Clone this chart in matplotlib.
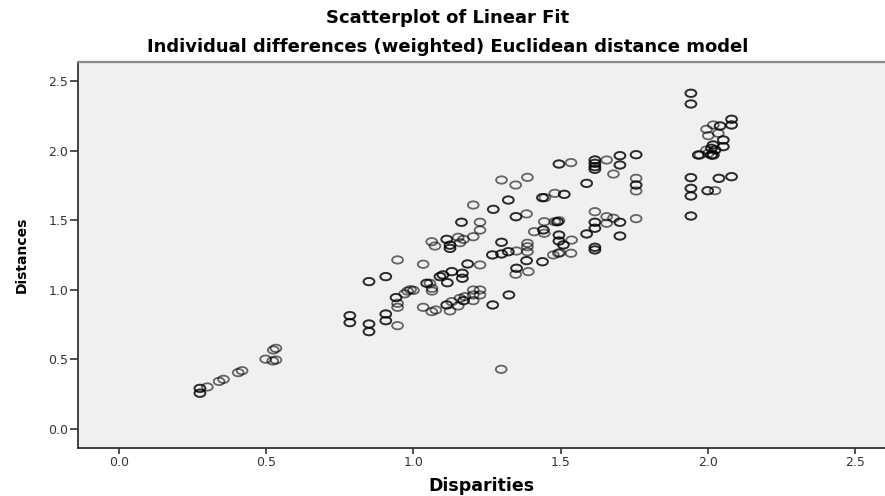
import numpy as np
import matplotlib
matplotlib.use("Agg")
import matplotlib.pyplot as plt
from matplotlib.path import Path

# Disparities (x) and fitted distances (y); repeated pairs are coincident observations
disparities = [
    0.275, 0.275, 0.275, 0.275, 0.300, 0.340, 0.355, 0.405, 0.418, 0.498,
    0.524, 0.533, 0.522, 0.533,
    0.784, 0.784, 0.784, 0.784,
    0.849, 0.849, 0.849, 0.849, 0.849, 0.849,
    0.906, 0.906, 0.906, 0.906, 0.906, 0.906,
    0.946, 0.946, 0.941, 0.941, 0.946, 0.946,
    0.970, 0.980, 0.990, 1.000,
    1.033, 1.033, 1.045, 1.045, 1.056, 1.063, 1.063, 1.062, 1.076,
    1.090, 1.090, 1.100, 1.100, 1.130, 1.130, 1.115, 1.115,
    1.166, 1.166, 1.166, 1.166, 1.184, 1.184, 1.226,
    1.113, 1.113, 1.130, 1.124, 1.152, 1.170, 1.170, 1.158, 1.175,
    1.203, 1.226, 1.203, 1.226, 1.203,
    1.269, 1.269, 1.324, 1.324, 1.298,
    1.268, 1.268, 1.299, 1.299, 1.322, 1.322, 1.350,
    1.350, 1.350, 1.347, 1.390, 1.384, 1.384, 1.438, 1.438,
    1.062, 1.073, 1.113, 1.113, 1.124, 1.124, 1.124, 1.124,
    1.152, 1.158, 1.170, 1.203, 1.203, 1.163, 1.163, 1.226, 1.226,
    1.271, 1.271, 1.322, 1.322, 1.299, 1.347, 1.387,
    1.348, 1.348, 1.384, 1.299, 1.299, 1.387, 1.387, 1.387,
    1.410, 1.441, 1.441, 1.444, 1.444, 1.480, 1.489, 1.489, 1.494,
    1.475, 1.492, 1.497,
    1.494, 1.494, 1.494, 1.494, 1.509, 1.509, 1.537, 1.535,
    1.438, 1.438, 1.446, 1.480, 1.512, 1.512,
    1.494, 1.494, 1.535, 1.588, 1.588,
    1.616, 1.616, 1.616, 1.616, 1.616, 1.616, 1.616, 1.616,
    1.656, 1.679, 1.701, 1.701, 1.701, 1.701, 1.756, 1.756,
    1.756, 1.756, 1.756, 1.756,
    1.616, 1.656, 1.679, 1.656, 1.616, 1.616, 1.616, 1.616,
    1.588, 1.588, 1.701, 1.701, 1.756, 1.701, 1.701,
    1.616, 1.616, 1.616, 1.616,
    1.942, 1.942, 1.942, 1.942, 1.942, 1.942, 1.942, 1.942,
    1.942, 1.942, 1.942, 1.942,
    1.999, 1.999, 2.024, 2.037, 2.037, 2.080, 2.080,
    2.080, 2.080, 2.080, 2.080,
    1.995, 2.018, 2.041, 2.041, 2.001, 2.035,
    2.052, 2.052, 2.052, 2.052,
    2.017, 2.017, 2.012, 2.012, 2.024, 2.024, 1.995,
    1.967, 1.967, 1.973, 2.012, 2.012, 2.018, 2.018, 2.001,
]
distances = [
    0.290, 0.290, 0.255, 0.255, 0.300, 0.340, 0.355, 0.403, 0.417, 0.500,
    0.566, 0.578, 0.487, 0.494,
    0.813, 0.813, 0.763, 0.763,
    0.753, 0.753, 0.698, 0.698, 1.058, 1.058,
    1.094, 1.094, 0.825, 0.825, 0.777, 0.777,
    1.214, 0.741, 0.943, 0.943, 0.902, 0.873,
    0.970, 0.990, 1.000, 0.995,
    1.183, 0.873, 1.046, 1.046, 1.046, 1.010, 0.990, 0.842, 0.854,
    1.094, 1.094, 1.106, 1.106, 1.130, 1.130, 1.050, 1.050,
    1.118, 1.118, 1.082, 1.082, 1.185, 1.185, 1.178,
    0.890, 0.890, 0.914, 0.847, 0.883, 0.921, 0.921, 0.938, 0.950,
    0.998, 0.998, 0.962, 0.962, 0.921,
    0.890, 0.890, 0.962, 0.962, 0.427,
    1.250, 1.250, 1.257, 1.257, 1.273, 1.273, 1.278,
    1.154, 1.154, 1.111, 1.130, 1.209, 1.209, 1.201, 1.201,
    1.345, 1.314, 1.362, 1.362, 1.320, 1.320, 1.297, 1.297,
    1.377, 1.338, 1.362, 1.381, 1.609, 1.485, 1.485, 1.485, 1.429,
    1.578, 1.578, 1.645, 1.645, 1.789, 1.753, 1.808,
    1.525, 1.525, 1.545, 1.341, 1.341, 1.334, 1.309, 1.273,
    1.417, 1.430, 1.430, 1.406, 1.489, 1.489, 1.489, 1.489, 1.496,
    1.250, 1.262, 1.266,
    1.393, 1.393, 1.350, 1.350, 1.322, 1.322, 1.357, 1.262,
    1.662, 1.662, 1.662, 1.693, 1.686, 1.686,
    1.904, 1.904, 1.914, 1.765, 1.765,
    1.933, 1.933, 1.909, 1.909, 1.885, 1.885, 1.866, 1.866,
    1.933, 1.832, 1.964, 1.964, 1.897, 1.897, 1.971, 1.971,
    1.801, 1.753, 1.753, 1.710, 1.561, 1.525,
    1.514, 1.478, 1.485, 1.485, 1.442, 1.442,
    1.401, 1.401, 1.485, 1.485, 1.511, 1.386, 1.386,
    1.305, 1.305, 1.286, 1.286,
    2.413, 2.413, 2.336, 2.336, 1.806, 1.806, 1.729, 1.729,
    1.674, 1.674, 1.530, 1.530,
    1.712, 1.712, 1.712, 1.801, 1.801, 1.813, 1.813,
    2.226, 2.226, 2.185, 2.185,
    2.154, 2.185, 2.178, 2.178, 2.108, 2.125,
    2.077, 2.077, 2.029, 2.029,
    2.041, 2.041, 2.017, 2.017, 2.005, 2.005, 2.005,
    1.969, 1.969, 1.969, 1.969, 1.969, 1.969, 1.969, 1.981,
]

x_ticks = [0.0, 0.5, 1.0, 1.5, 2.0, 2.5]
y_ticks = [0.0, 0.5, 1.0, 1.5, 2.0, 2.5]

plt.rcParams["font.family"] = ["DejaVu Sans"]

fig = plt.figure(figsize=(8.85, 4.96), dpi=100)
fig.patch.set_facecolor("white")
ax = fig.add_axes([78 / 885, 48.3 / 496, 1 - 78 / 885, (447.7 - 62) / 496])
ax.set_facecolor("#f0f0f0")

# flattened ring marker
circ = Path.unit_circle()
ring = Path(circ.vertices * np.array([1.0, 0.68]), circ.codes)

ax.scatter(disparities, distances, marker=ring, s=7.8 ** 2,
           facecolors="none", edgecolors=(0, 0, 0, 0.58), linewidths=1.3,
           zorder=3)

ax.set_xlim(-0.139, 2.601)
ax.set_ylim(-0.137, 2.638)
ax.set_xticks(x_ticks)
ax.set_yticks(y_ticks)
ax.set_xticklabels([f"{v:.1f}" for v in x_ticks])
ax.set_yticklabels([f"{v:.1f}" for v in y_ticks])

for side in ("left", "bottom"):
    ax.spines[side].set_color("#333333")
    ax.spines[side].set_linewidth(1.3)
ax.spines["top"].set_color("#8a8a8a")
ax.spines["top"].set_linewidth(1.6)
ax.spines["right"].set_visible(False)

ax.tick_params(axis="y", length=6, width=1.2, color="#333333",
               labelsize=9, labelcolor="#333333", pad=1)
ax.tick_params(axis="x", length=4.5, width=1.2, color="#333333",
               labelsize=9, labelcolor="#333333", pad=1.5)

ax.set_xlabel("Disparities", fontsize=12.5, fontweight="bold", labelpad=6)
ax.set_ylabel("Distances", fontsize=10, fontweight="bold", labelpad=14)

fig.text(448 / 885, 1 - 18 / 496, "Scatterplot of Linear Fit",
         ha="center", va="center", fontsize=13, fontweight="bold")
fig.text(448 / 885, 1 - 47 / 496,
         "Individual differences (weighted) Euclidean distance model",
         ha="center", va="center", fontsize=13, fontweight="bold")

fig.savefig("out.png", dpi=100)
